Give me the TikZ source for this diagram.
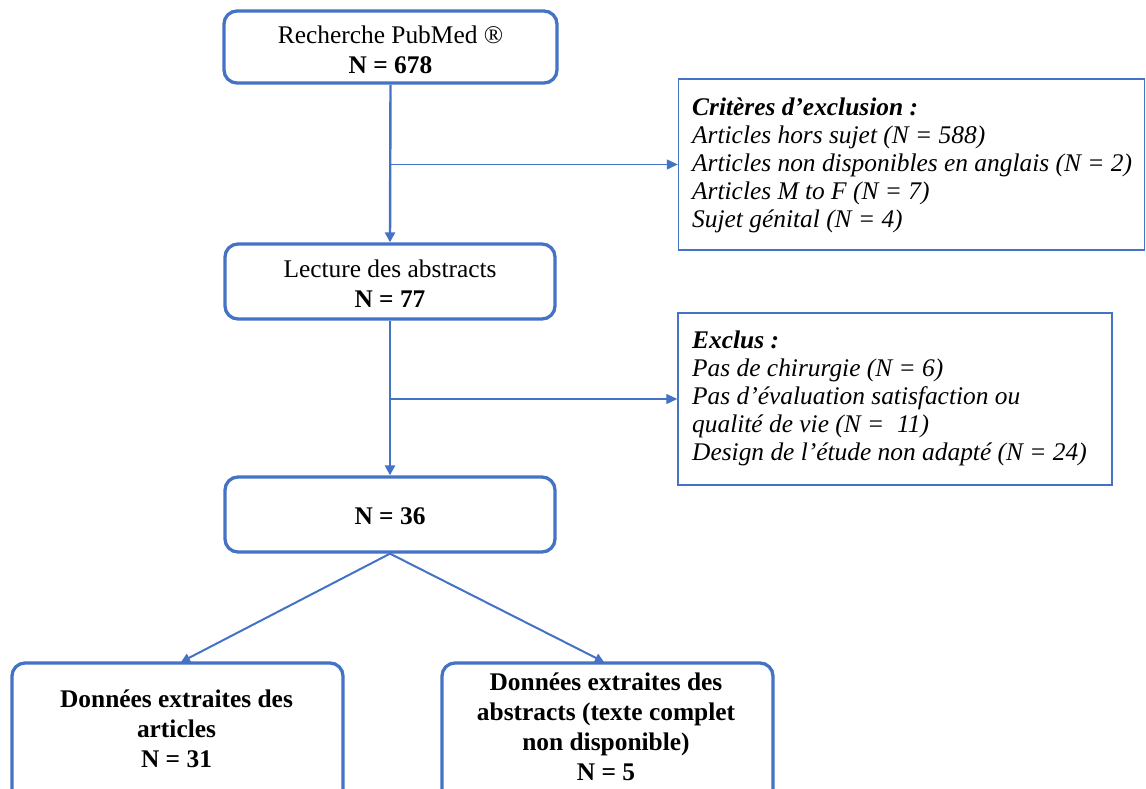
\documentclass[tikz,border=0pt]{standalone}
\usepackage{fontspec}
\setmainfont{Liberation Serif}
\usetikzlibrary{arrows.meta}
\definecolor{myblue}{HTML}{4472C4}
\tikzset{
  rbox/.style={draw=myblue, line width=3.3pt, rounded corners=13pt, fill=white, inner sep=0pt},
  ebox/.style={draw=myblue, line width=1.4pt, fill=white, inner sep=0pt},
  ctext/.style={align=center, inner sep=0pt, font=\fontsize{25.4}{30}\selectfont},
  ltext/.style={align=left, inner sep=0pt, anchor=west, font=\fontsize{25.4}{28}\selectfont\itshape},
  varr/.style={draw=myblue, line width=2.4pt, -{Triangle[length=10pt,width=10pt]}},
  harr/.style={draw=myblue, line width=1.2pt, -{Triangle[length=11pt,width=10pt]}},
  darr/.style={draw=myblue, line width=2pt, -{Triangle[length=9pt,width=9pt]}}
}
\begin{document}
\begin{tikzpicture}[x=1pt,y=-1pt]
\useasboundingbox (0,0) rectangle (1146,789);
\begin{scope}
\clip (0,0) rectangle (1146,789);
% main boxes
\node[rbox, minimum width=333pt, minimum height=72pt] (b1) at (390.5,47) {};
\node[rbox, minimum width=330pt, minimum height=75pt] (b2) at (390,281.5) {};
\node[rbox, minimum width=330pt, minimum height=75pt] (b3) at (390,514.5) {};
\node[rbox, minimum width=331pt, minimum height=140pt] (b4) at (177.5,733) {};
\node[rbox, minimum width=331pt, minimum height=140pt] (b5) at (607.5,733) {};
% exclusion boxes
\node[ebox, minimum width=466pt, minimum height=171pt] (e1) at (911.5,164.5) {};
\node[ebox, minimum width=434pt, minimum height=172pt] (e2) at (895,399) {};
% texts
\node[ctext] (t1) at (390.5,50) {Recherche PubMed ®\\ \textbf{N = 678}};
\node[ctext] (t2) at (390,283.5) {Lecture des abstracts\\ \textbf{N = 77}};
\node[ctext, font=\fontsize{25.4}{30}\selectfont\bfseries] (t3) at (390,516.5) {N = 36};
\node[ctext, font=\fontsize{25.4}{30}\selectfont\bfseries] (t4) at (176.5,728.5) {Données extraites des\\ articles\\ N = 31};
\node[ctext, font=\fontsize{25.4}{30}\selectfont\bfseries] (t5) at (606,727) {Données extraites des\\ abstracts (texte complet\\ non disponible)\\ N = 5};
\node[ltext] (t6) at (692,165) {\textbf{Critères d’exclusion :}\\ Articles hors sujet (N = 588)\\ Articles non disponibles en anglais (N = 2)\\ Articles M to F (N = 7)\\ Sujet génital (N = 4)};
\node[ltext] (t7) at (692,398.5) {\textbf{Exclus :}\\ Pas de chirurgie (N = 6)\\ Pas d’évaluation satisfaction ou\\ qualité de vie (N =~~11)\\ Design de l’étude non adapté (N = 24)};
% connectors
\coordinate (j1) at (b1.south |- e1.west);
\coordinate (j2) at (b2.south |- e2.west);
\draw[varr] (b1.south) -- (b2.north);
\draw[varr] (b2.south) -- (b3.north);
\draw[harr] (j1) -- (e1.west);
\draw[harr] (j2) -- (e2.west);
\coordinate (d4) at (181,662);
\coordinate (d5) at (604,662);
\draw[darr] (b3.south) -- (d4);
\draw[darr] (b3.south) -- (d5);
\end{scope}
\end{tikzpicture}
\end{document}
